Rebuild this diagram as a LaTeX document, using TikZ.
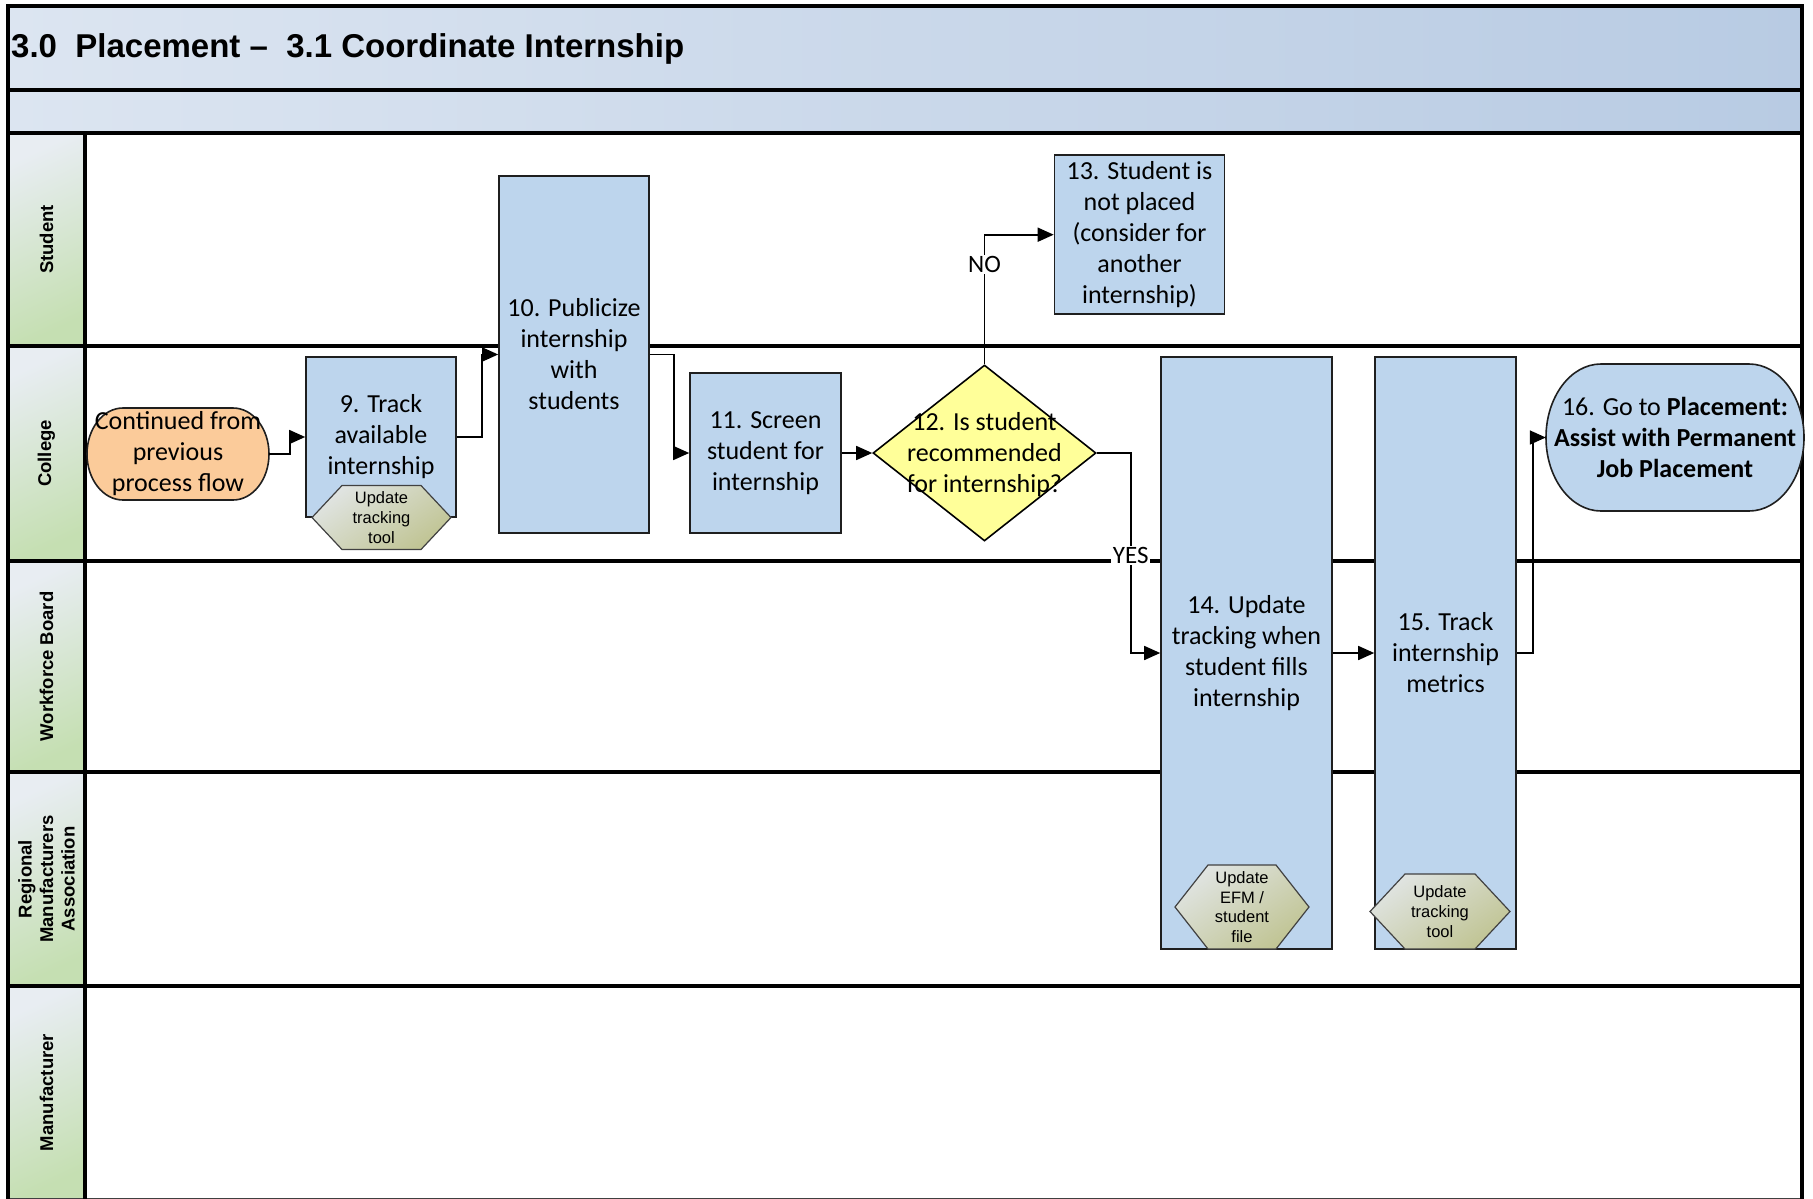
\documentclass[tikz,border=0pt]{standalone}
\usepackage{fontspec}
\setmainfont{Carlito}
\newfontfamily\headfamily{Liberation Sans}
\usetikzlibrary{arrows.meta,shapes.geometric,calc}

\definecolor{bandL}{HTML}{DCE5F1}
\definecolor{bandR}{HTML}{B8CBE3}
\definecolor{laneA}{HTML}{E8EDF2}
\definecolor{laneB}{HTML}{C5DFB2}
\definecolor{stepfill}{HTML}{BDD5ED}
\definecolor{decfill}{HTML}{FFFF99}
\definecolor{startfill}{HTML}{FBCB9A}
\definecolor{hexA}{HTML}{E0E4E2}
\definecolor{hexB}{HTML}{C0C493}
\definecolor{edge}{HTML}{1F1F1F}

\newcommand\stepfont{\fontsize{26}{31}\selectfont}
\newcommand\hxfont{\headfamily\fontsize{16.5}{19.6}\selectfont}
\newcommand\lnfont{\headfamily\bfseries\fontsize{18.5}{21.5}\selectfont}

\tikzset{
  stepbox/.style={draw=edge, line width=1.6pt, fill=stepfill, align=center,
    inner sep=0pt, font=\stepfont},
  decbox/.style={diamond, draw=black, line width=1.6pt, fill=decfill,
    inner sep=0pt, aspect=1.27},
  plaintext/.style={align=center, inner sep=0pt, font=\stepfont},
  hexshape/.style={top color=hexA, bottom color=hexB, shading angle=35,
    draw=edge!85, line width=1.2pt},
  hextext/.style={align=center, inner sep=0pt, font=\hxfont},
  flow/.style={draw=black, line width=1.6pt,
    -{Triangle[length=16pt,width=14pt]}},
  tag/.style={fill=white, inner sep=1.5pt, font=\fontsize{25}{29}\selectfont},
  lanehead/.style={top color=laneA, bottom color=laneB, shading angle=25},
  lanelabel/.style={rotate=90, align=center, font=\lnfont},
  rule/.style={line width=4.5pt, draw=black},
}

% terminal: name, cx, cy, width, height, corner x-radius, fill, text
\newcommand\terminal[8]{%
  \path[draw=edge, line width=1.6pt, fill=#7]
    ({#2-#4/2+#6},{#3-#5/2}) -- ({#2+#4/2-#6},{#3-#5/2})
    arc[start angle=90, end angle=-90, x radius=#6pt, y radius=#5pt/2]
    -- ({#2-#4/2+#6},{#3+#5/2})
    arc[start angle=270, end angle=90, x radius=#6pt, y radius=#5pt/2]
    -- cycle;
  \node[plaintext, minimum width=#4pt, minimum height=#5pt] (#1) at (#2,#3) {#8};%
}

% hexagonal data tag: name, cx, cy, width, height, indent, text
\newcommand\hextag[7]{%
  \shadedraw[hexshape]
    ({#2-#4/2},{#3}) -- ({#2-#4/2+#6},{#3-#5/2}) -- ({#2+#4/2-#6},{#3-#5/2})
    -- ({#2+#4/2},{#3}) -- ({#2+#4/2-#6},{#3+#5/2}) -- ({#2-#4/2+#6},{#3+#5/2})
    -- cycle;
  \node[hextext] (#1) at (#2,#3) {#7};%
}

\begin{document}
\begin{tikzpicture}[x=1pt,y=-1pt, line join=miter]
\useasboundingbox (0,0) rectangle (1813,1199);

% header bands
\shade[left color=bandL, right color=bandR] (8,6) rectangle (1802,90);
\shade[left color=bandL, right color=bandR] (8,90) rectangle (1802,133);
\node[anchor=west, inner sep=0pt, font=\headfamily\bfseries\fontsize{33}{38}\selectfont]
  (title) at (11,49) {3.0\ \ Placement –\ \ 3.1 Coordinate Internship};

% lane headers
\shade[lanehead] (8,133) rectangle (85,346);
\shade[lanehead] (8,346) rectangle (85,561);
\shade[lanehead] (8,561) rectangle (85,772);
\shade[lanehead] (8,772) rectangle (85,986);
\shade[lanehead] (8,986) rectangle (85,1199);

\node[lanelabel] (lane1) at (46.5,239.5) {Student};
\node[lanelabel] (lane2) at (46.5,453.5) {College};
\node[lanelabel] (lane3) at (46.5,666.5) {Workforce Board};
\node[lanelabel] (lane4) at (46.5,879) {Regional\\Manufacturers\\Association};
\node[lanelabel] (lane5) at (46.5,1092.5) {Manufacturer};

% lane rules and frame
\draw[line width=1pt, black!75] (8,1198) -- (1802,1198);
\draw[rule] (8,90) -- (1802,90);
\draw[rule] (8,133) -- (1802,133);
\draw[rule] (8,346) -- (1802,346);
\draw[rule] (8,561) -- (1802,561);
\draw[rule] (8,772) -- (1802,772);
\draw[rule] (8,986) -- (1802,986);
\draw[rule] (85,133) -- (85,1199);
\draw[rule] (8,1199) -- (8,6) -- (1802,6) -- (1802,1199);

% process steps
\terminal{n0}{178}{454}{182}{92}{36}{startfill}{Continued from\\previous\\process flow}
\node[stepbox, minimum width=150pt, minimum height=160pt] (n9) at (381,437)
  {9. Track\\available\\internship};
\node[stepbox, minimum width=150pt, minimum height=357pt] (n10) at (574,354.5)
  {10. Publicize\\internship\\with\\students};
\node[stepbox, minimum width=151pt, minimum height=160pt] (n11) at (765.5,453)
  {11. Screen\\student for\\internship};
\node[decbox, minimum width=223pt, minimum height=176pt] (n12) at (984.5,453) {};
\node[plaintext] (t12) at ([yshift=-2pt]n12.center) {12. Is student\\recommended\\for internship?};
\node[stepbox, minimum width=170pt, minimum height=159pt] (n13) at (1139.5,234.7)
  {13. Student is\\not placed\\(consider for\\another\\internship)};
\node[stepbox, minimum width=171pt, minimum height=592pt] (n14) at (1246.5,653)
  {14. Update\\tracking when\\student fills\\internship};
\node[stepbox, minimum width=141pt, minimum height=592pt] (n15) at (1445.5,653)
  {15. Track\\internship\\metrics};
\terminal{n16}{1675}{437.5}{258}{147}{55}{stepfill}%
  {16. Go to \textbf{Placement:}\\\textbf{Assist with Permanent}\\\textbf{Job Placement}}

% data tags
\hextag{d9}{381.5}{517.5}{139}{64}{30}{Update\\tracking\\tool}
\hextag{d14}{1242}{907}{134}{84}{33}{Update\\EFM /\\student\\file}
\hextag{d15}{1440}{911.5}{140}{75}{35}{Update\\tracking\\tool}

% connectors
\draw[flow] (n0.east) -- ++(21,0) |- (n9.west);
\draw[flow] (n9.east) -- ++(25,0) |- (n10.west);
\draw[flow] (n10.east) -- ++(24,0) |- (n11.west);
\draw[flow] (n11.east) -- (n12.west);
\draw[flow] (n12.north) |- node[tag, pos=0.385] (lno) {NO} (n13.west);
\draw[flow] (n12.east) -- ++(34,0) |- node[tag, pos=0.256] (lyes) {YES} (n14.west);
\draw[flow] (n14.east) -- (n15.west);
\draw[flow] (n15.east) -- ++(16,0) |- (n16.west);
\end{tikzpicture}
\end{document}
